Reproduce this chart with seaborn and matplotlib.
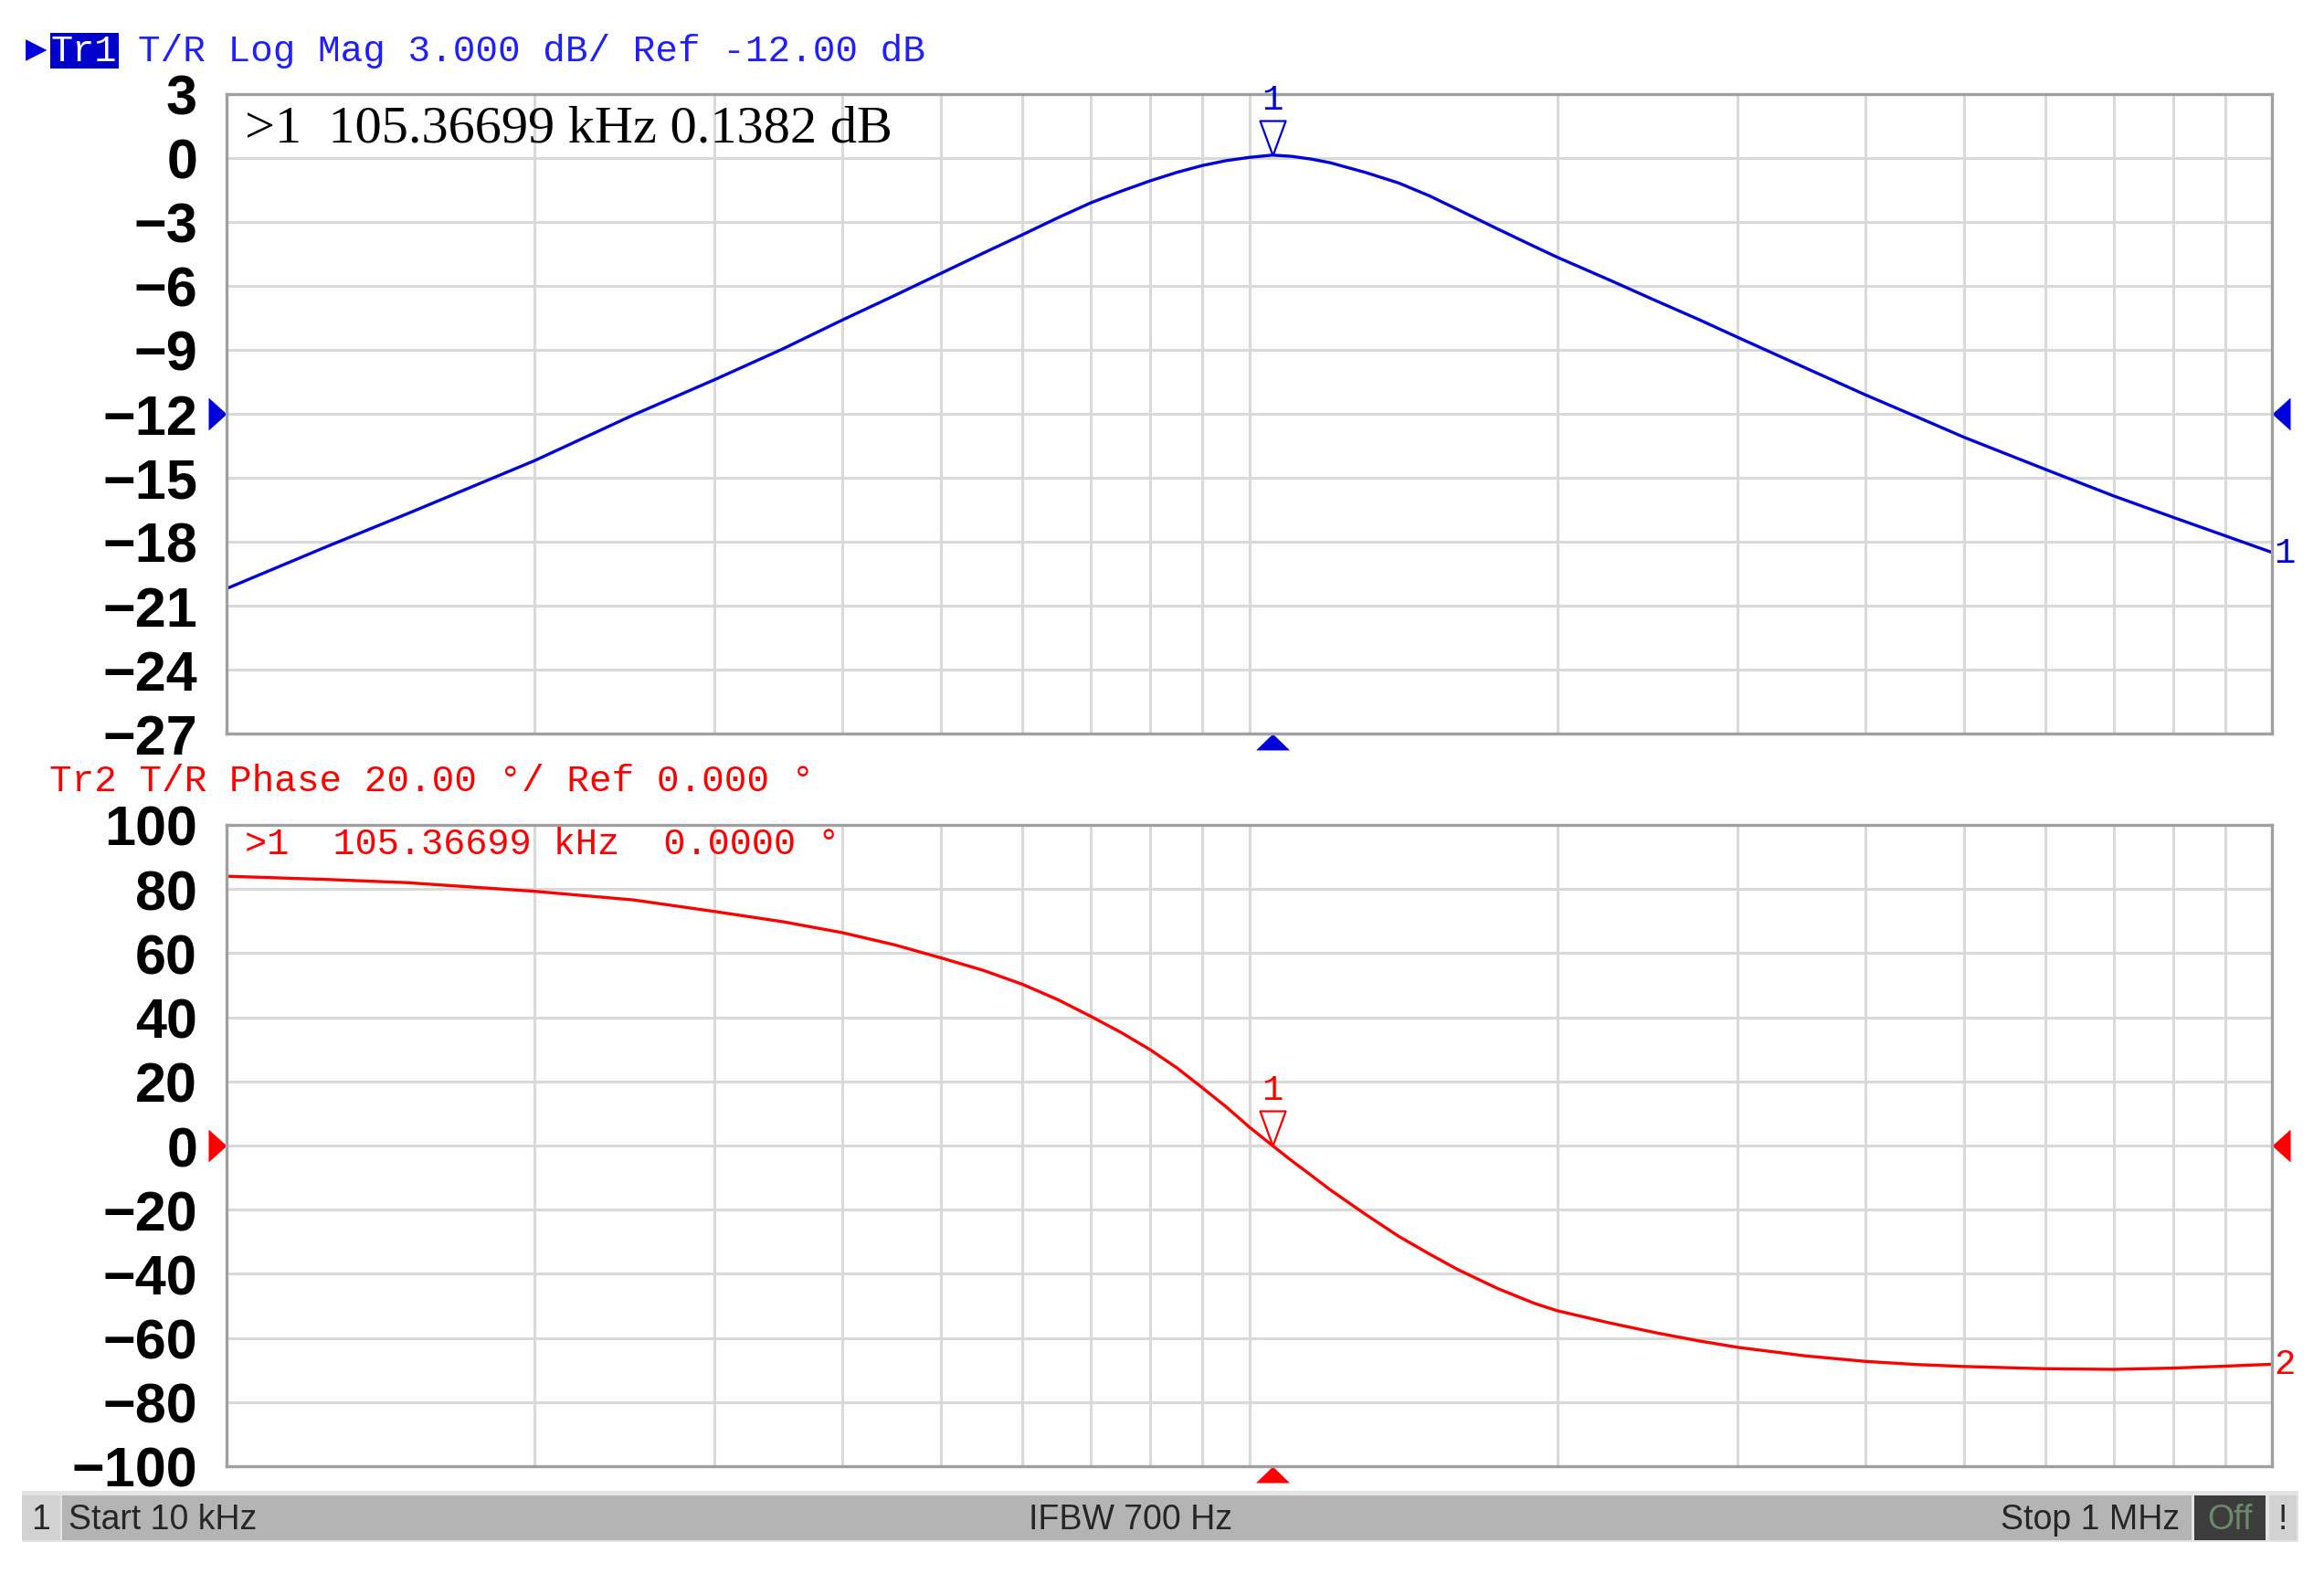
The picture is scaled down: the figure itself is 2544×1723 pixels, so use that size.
import seaborn as sns
import matplotlib.pyplot as plt
from matplotlib.patches import Rectangle
from matplotlib.ticker import NullLocator

# trace points (kHz, dB, degrees)
freq_khz = [10, 12.5, 15, 20, 25, 30, 35, 40, 45, 50, 55, 60, 65, 70, 75, 80, 85, 90, 95, 100,
            105.367, 110, 115, 120, 130, 140, 150, 160, 175, 190, 200, 225, 250, 275, 300, 350,
            400, 450, 500, 600, 700, 800, 900, 1000]
mag_db = [-20.2, -18.25, -16.7, -14.2, -12.05, -10.4, -8.95, -7.6, -6.45, -5.4, -4.45, -3.6, -2.8,
          -2.1, -1.55, -1.07, -0.67, -0.35, -0.12, 0.03,
          0.138, 0.08, -0.05, -0.22, -0.68, -1.17, -1.77, -2.42, -3.33, -4.15, -4.65, -5.72, -6.7,
          -7.57, -8.4, -9.85, -11.1, -12.15, -13.1, -14.6, -15.85, -16.85, -17.72, -18.5]
phase_deg = [84, 83, 82, 79.3, 76.6, 73, 69.8, 66.4, 62.6, 58.5, 54.6, 50.3, 45.5, 40.3, 35.2,
             29.9, 24.2, 18, 12, 5.8,
             0.0, -4.7, -9.3, -13.8, -21.5, -28.3, -33.8, -38.7, -44.6, -49.2, -51.5, -55.3, -58.4,
             -60.9, -62.9, -65.6, -67.3, -68.3, -68.9, -69.6, -69.8, -69.4, -68.8, -68.2]

marker_khz = 105.36699
marker_mag = 0.1382
marker_phase = 0.0
mag_ref = -12
phase_ref = 0

grid_khz = [10, 20, 30, 40, 50, 60, 70, 80, 90, 100, 200, 300, 400, 500, 600, 700, 800, 900, 1000]
mag_ticks = list(range(-27, 4, 3))
phase_ticks = list(range(-100, 101, 20))

header1 = "T/R Log Mag 3.000 dB/ Ref -12.00 dB"
header2 = "Tr2 T/R Phase 20.00 °/ Ref 0.000 °"
readout1 = ">1  105.36699 kHz 0.1382 dB"
readout2 = ">1  105.36699 kHz  0.0000 °"

BLUE = "#0000dd"
RED = "#ff0000"
W, H = 2544, 1724

sns.set_style("white")
plt.rcParams['font.family'] = ['Liberation Sans', 'DejaVu Sans']

fig = plt.figure(figsize=(W / 100, H / 100), dpi=100)
ax1 = fig.add_axes([248 / W, 1 - 804 / H, 2239 / W, 700 / H])
ax2 = fig.add_axes([248 / W, 1 - 1606 / H, 2239 / W, 702 / H])

# custom marker shapes, tip at origin
tri_right = [(0, 0), (-20, 18), (-20, -18), (0, 0)]
tri_left = [(0, 0), (20, 18), (20, -18), (0, 0)]
tri_up = [(0, 0), (-18.5, -18), (18.5, -18), (0, 0)]
tri_mark = [(0, 0), (-14, 38), (14, 38), (0, 0)]


def style_axes(ax, ticks, lim):
    ax.set_xscale('log')
    ax.set_xlim(10, 1000)
    ax.set_ylim(*lim)
    ax.set_xticks(grid_khz)
    ax.set_xticklabels([])
    ax.xaxis.set_minor_locator(NullLocator())
    ax.set_yticks(ticks)
    ax.set_yticklabels([str(t).replace('-', '\u2212') for t in ticks],
                       fontsize=44, fontweight='bold', color='black')
    ax.tick_params(length=0, pad=23)
    ax.grid(True, color='#d9d9d9', lw=2.2)
    ax.set_axisbelow(True)
    for s in ax.spines.values():
        s.set_visible(True)
        s.set_color('#a0a0a0')
        s.set_linewidth(2.4)
    ax.set_xlabel('')
    ax.set_ylabel('')


def overlays(ax, color, ref, mval, end_label, end_val):
    ytr = ax.get_yaxis_transform()
    xtr = ax.get_xaxis_transform()
    ax.plot([0], [ref], marker=tri_right, ms=28.8, mew=0, color=color, transform=ytr, clip_on=False)
    ax.plot([1], [ref], marker=tri_left, ms=28.8, mew=0, color=color, transform=ytr, clip_on=False)
    ax.plot([marker_khz], [0], marker=tri_up, ms=26.6, mew=0, color=color, transform=xtr, clip_on=False)
    ax.plot([marker_khz], [mval], marker=tri_mark, ms=54.7, mew=1.6, mfc='none', mec=color,
            color=color, clip_on=False, zorder=5)
    ax.annotate("1", xy=(marker_khz, mval), xytext=(0, 44), textcoords='offset points',
                ha='center', va='center', fontsize=28, color=color, family='Liberation Mono',
                annotation_clip=False)
    ax.text(1.001, end_val, end_label, transform=ytr, ha='left', va='center',
            fontsize=28, color=color, family='Liberation Mono')


sns.lineplot(x=freq_khz, y=mag_db, ax=ax1, color=BLUE, linewidth=2.4, errorbar=None)
sns.lineplot(x=freq_khz, y=phase_deg, ax=ax2, color=RED, linewidth=2.4, errorbar=None)
style_axes(ax1, mag_ticks, (-27, 3))
style_axes(ax2, phase_ticks, (-100, 100))
overlays(ax1, BLUE, mag_ref, marker_mag, "1", mag_db[-1])
overlays(ax2, RED, phase_ref, marker_phase, "2", phase_deg[-1])

# readouts inside the grids
ax1.text(268 / W, 1 - 141 / H, readout1, transform=fig.transFigure, fontsize=42,
         family='Liberation Serif', color='black', ha='left', va='center')
ax2.text(268 / W, 1 - 924 / H, readout2, transform=fig.transFigure, fontsize=29,
         family='Liberation Mono', color=RED, ha='left', va='center')

# trace headers
fig.text(28 / W, 1 - 55 / H, "\u25B6", fontsize=22, color=BLUE, ha='left', va='center',
         family='DejaVu Sans')
fig.patches.append(Rectangle((55 / W, 1 - 76 / H), 75 / W, 39 / H, transform=fig.transFigure,
                             facecolor='#0000cc', edgecolor='none'))
fig.text(92 / W, 1 - 56 / H, "Tr1", fontsize=29, color='white', ha='center', va='center',
         family='Liberation Mono')
fig.text(151 / W, 1 - 56 / H, header1, fontsize=29.5, color='#1e1eff', ha='left', va='center',
         family='Liberation Mono')
fig.text(54 / W, 1 - 855 / H, header2, fontsize=29.5, color=RED, ha='left', va='center',
         family='Liberation Mono')

# status bar
fig.patches.append(Rectangle((24 / W, 1 - 1689 / H), 2492 / W, 56 / H, transform=fig.transFigure,
                             facecolor='#e4e4e4', edgecolor='none'))
fig.patches.append(Rectangle((68 / W, 1 - 1687 / H), 2331 / W, 49 / H, transform=fig.transFigure,
                             facecolor='#b4b4b4', edgecolor='none'))
fig.patches.append(Rectangle((24 / W, 1 - 1687 / H), 42 / W, 49 / H, transform=fig.transFigure,
                             facecolor='#d2d2d2', edgecolor='none'))
fig.patches.append(Rectangle((2402 / W, 1 - 1687 / H), 78 / W, 49 / H, transform=fig.transFigure,
                             facecolor='#3c3c3c', edgecolor='none'))
fig.patches.append(Rectangle((2484 / W, 1 - 1687 / H), 30 / W, 49 / H, transform=fig.transFigure,
                             facecolor='#d2d2d2', edgecolor='none'))
sy = 1 - 1664 / H
fig.text(45 / W, sy, "1", fontsize=27, ha='center', va='center')
fig.text(75 / W, sy, "Start 10 kHz", fontsize=27, ha='left', va='center')
fig.text(1238 / W, sy, "IFBW 700 Hz", fontsize=27, ha='center', va='center')
fig.text(2386 / W, sy, "Stop 1 MHz", fontsize=27, ha='right', va='center')
fig.text(2441 / W, sy, "Off", fontsize=27, ha='center', va='center', color='#6a8a6a')
fig.text(2499 / W, sy, "!", fontsize=27, ha='center', va='center')

plt.savefig('out.png', dpi=100)
